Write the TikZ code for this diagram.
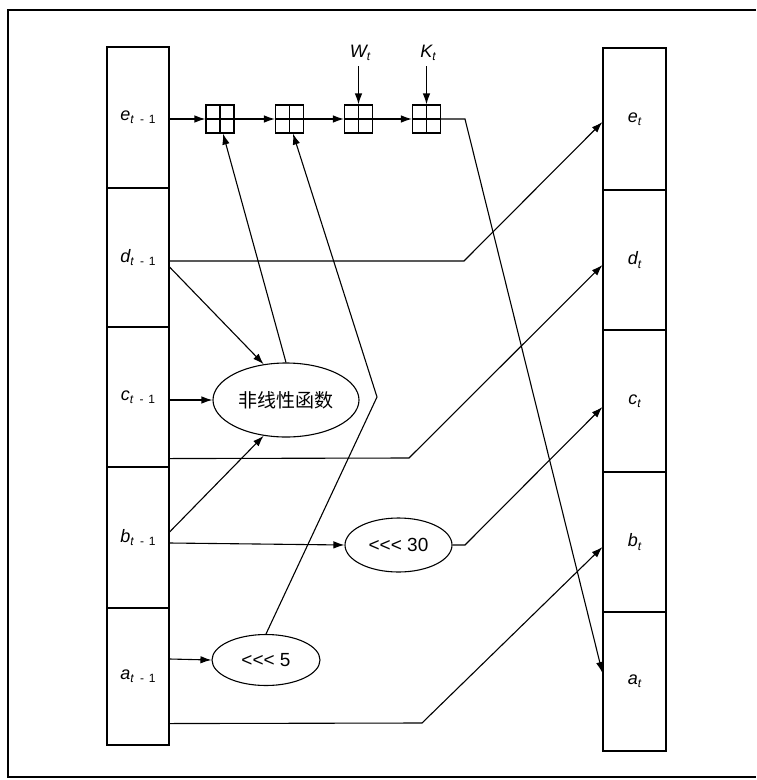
\documentclass[tikz,border=0pt]{standalone}
\usepackage{fontspec}
\setmainfont{Liberation Serif}
\setsansfont{Liberation Sans}
\newfontfamily\cjk{Noto Sans CJK SC}
\usetikzlibrary{arrows.meta,shapes.geometric}
\newcommand{\lblx}[2]{{\sffamily\itshape #1\raisebox{-0.35ex}{\fontsize{12}{12}\selectfont #2}}}
\newcommand{\sub}{\textit{t}\hspace{0.5em}\textup{-}\hspace{0.4em}\textup{1}}
\begin{document}
\begin{tikzpicture}[x=1pt,y=-1pt,line width=1.1pt,
  cell/.style={draw,minimum width=62pt,inner sep=0pt,font=\fontsize{18}{20}\selectfont},
  xbox/.style={draw,minimum width=28pt,minimum height=28pt,inner sep=0pt},
  oval/.style={draw,ellipse,inner sep=0pt,font=\sffamily\fontsize{19}{21}\selectfont},
  arr/.style={-{Latex[length=11pt,width=7.5pt]}},
  lab/.style={font=\fontsize{18}{20}\selectfont,inner sep=1pt}]
\useasboundingbox (0,0) rectangle (756,780);
% outer frame
\draw[line width=1.2pt] (756,10) -- (8,10) -- (8,777) -- (756,777);
% left column
\node[cell,minimum height=141pt] (Le) at (138,117.5) {\lblx{e}{\sub}};
\node[cell,minimum height=139pt] (Ld) at (138,257.5) {\lblx{d}{\sub}};
\node[cell,minimum height=140pt] (Lc) at (138,397) {\lblx{c}{\sub}};
\node[cell,minimum height=141pt] (Lb) at (138,537.5) {\lblx{b}{\sub}};
\node[cell,minimum height=137pt] (La) at (138,676.5) {\lblx{a}{\sub}};
% right column
\node[cell,minimum width=63pt,minimum height=142pt] (Re) at (634.5,119) {\lblx{e}{t}};
\node[cell,minimum width=63pt,minimum height=140pt] (Rd) at (634.5,260) {\lblx{d}{t}};
\node[cell,minimum width=63pt,minimum height=142pt] (Rc) at (634.5,401) {\lblx{c}{t}};
\node[cell,minimum width=63pt,minimum height=140pt] (Rb) at (634.5,542) {\lblx{b}{t}};
\node[cell,minimum width=63pt,minimum height=139pt] (Ra) at (634.5,681.5) {\lblx{a}{t}};
% adder boxes
\node[xbox] (B1) at (220,119) {};
\node[xbox] (B2) at (289.5,119) {};
\node[xbox] (B3) at (358.5,119) {};
\node[xbox] (B4) at (426.5,119) {};
\foreach \b in {B1,B2,B3,B4}{\draw (\b.north) -- (\b.south) (\b.west) -- (\b.east);}
% inputs W, K
\node[lab] (W) at (360,53) {\lblx{W}{t}};
\node[lab] (K) at (428,53) {\lblx{K}{t}};
\draw[arr] ([xshift=-1.5pt,yshift=-4pt]W.south) -- (B3.north);
\draw[arr] ([xshift=-1.5pt,yshift=-4pt]K.south) -- (B4.north);
% ovals
\node[oval,minimum width=146pt,minimum height=74pt,font=\cjk\fontsize{19}{21}\selectfont] (NL) at (286,400) {非线性函数};
\node[oval,minimum width=107pt,minimum height=54pt] (R30) at (398.5,545) {<{}<{}< 30};
\node[oval,minimum width=108pt,minimum height=51pt] (R5) at (266,660) {<{}<{}< 5};
% bend points
\coordinate (ebend) at (465,119);
\coordinate (dbend) at (464,261);
\coordinate (cbend) at (409,458);
\coordinate (bbend) at (465,545);
\coordinate (abend) at (422,723);
\coordinate (kink) at (377,397);
% e chain
\draw[arr] ([yshift=-1.5pt]Le.east) -- (B1.west);
\draw[arr] (B1.east) -- (B2.west);
\draw[arr] (B2.east) -- (B3.west);
\draw[arr] (B3.east) -- (B4.west);
\draw[arr] (B4.east) -- (ebend) -- ([yshift=8.5pt]Ra.west);
% d
\draw[arr] ([yshift=-3.5pt]Ld.east) -- (dbend) -- ([yshift=-3pt]Re.west);
\draw[arr] ([yshift=-9.5pt]Ld.east) -- (NL.122);
% c
\draw[arr] ([yshift=-3pt]Lc.east) -- (NL.west);
\draw[arr] ([yshift=9pt]Lc.south east) -- (cbend) -- ([yshift=-5pt]Rd.west);
% nonlinear output
\draw[arr] (NL.north) -- ([xshift=3pt]B1.south);
% b
\draw[arr] ([yshift=5.5pt]Lb.east) -- (NL.238);
\draw[arr] ([yshift=-5.5pt]Lb.east) -- (R30.west);
\draw[arr] (R30.east) -- (bbend) -- ([yshift=-6pt]Rc.west);
% a
\draw[arr] ([yshift=17.5pt]La.east) -- (R5.west);
\draw[arr] (R5.north) -- (kink) -- ([xshift=3.5pt]B2.south);
\draw[arr] ([yshift=22pt]La.south east) -- (abend) -- ([yshift=-5pt]Rb.west);
\end{tikzpicture}
\end{document}
